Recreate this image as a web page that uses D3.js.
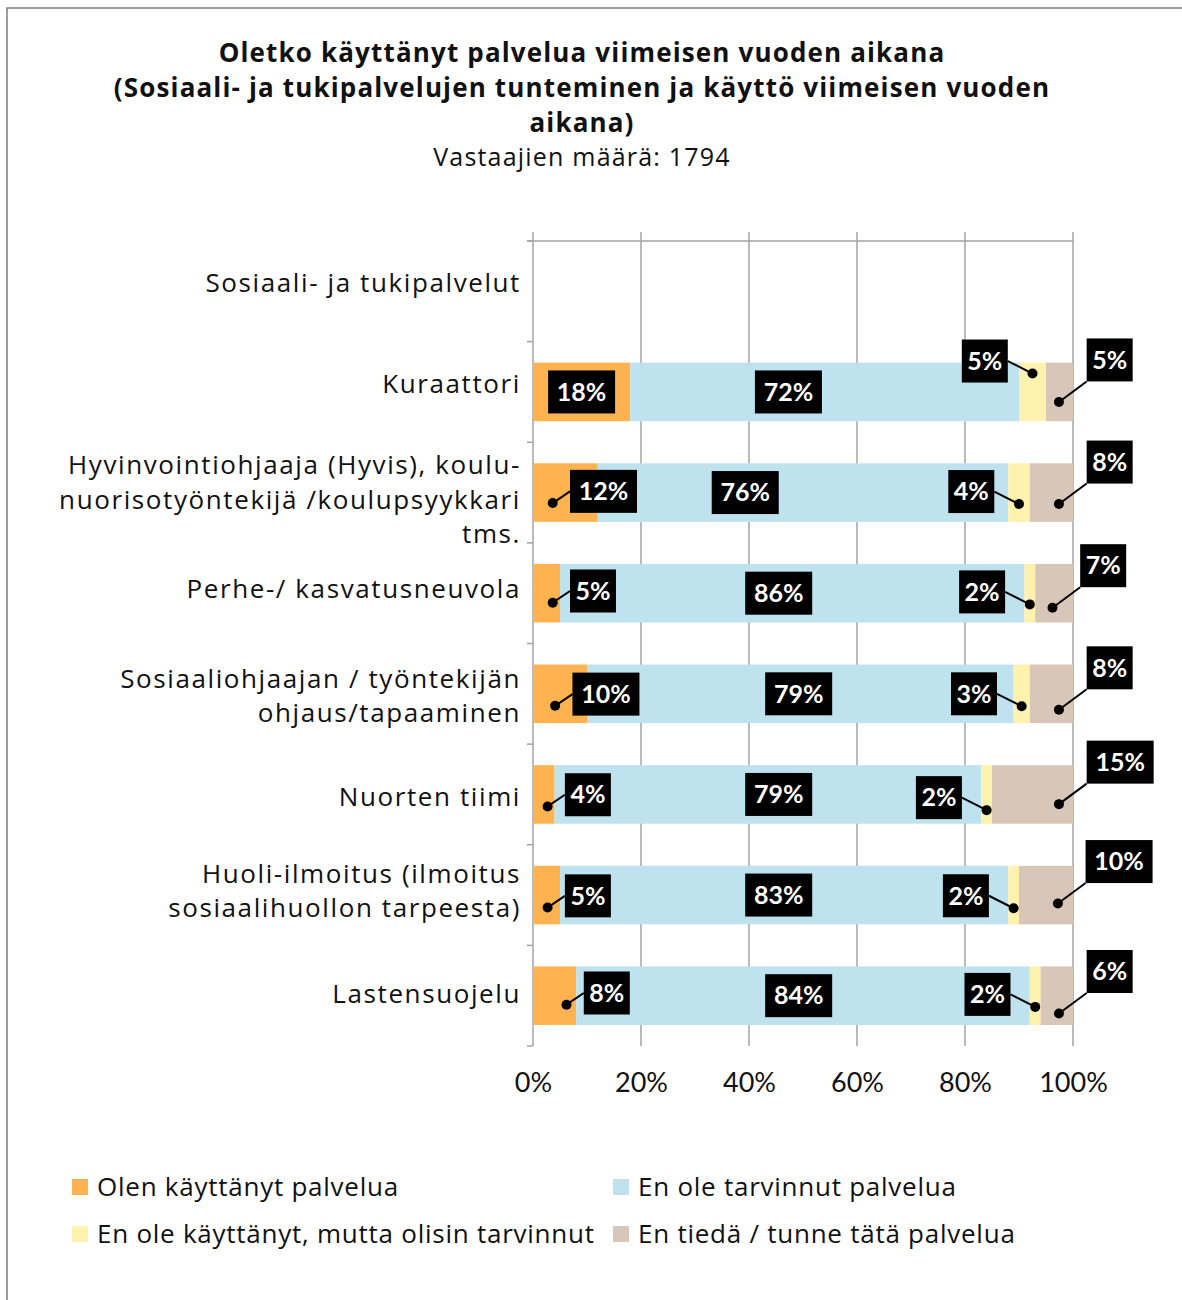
<!DOCTYPE html>
<html>
<head>
<meta charset="utf-8">
<script src="https://cdn.jsdelivr.net/npm/d3@7"></script>
<style>
  body { margin: 0; background: #fff; }
  svg { font-family: "Open Sans", "Noto Sans", sans-serif; }
</style>
</head>
<body>
<div id="chart"></div>
<script>
const titleLines = [
  "Oletko käyttänyt palvelua viimeisen vuoden aikana",
  "(Sosiaali- ja tukipalvelujen tunteminen ja käyttö viimeisen vuoden",
  "aikana)"
];
const subtitle = "Vastaajien määrä: 1794";

const categories = [
  "Sosiaali- ja tukipalvelut",
  "Kuraattori",
  "Hyvinvointiohjaaja (Hyvis), koulu-\nnuorisotyöntekijä /koulupsyykkari\ntms.",
  "Perhe-/ kasvatusneuvola",
  "Sosiaaliohjaajan / työntekijän\nohjaus/tapaaminen",
  "Nuorten tiimi",
  "Huoli-ilmoitus (ilmoitus\nsosiaalihuollon tarpeesta)",
  "Lastensuojelu"
];

const seriesNames = [
  "Olen käyttänyt palvelua",
  "En ole tarvinnut palvelua",
  "En ole käyttänyt, mutta olisin tarvinnut",
  "En tiedä / tunne tätä palvelua"
];
const colors = ["#ffb350", "#bee3ee", "#fff2af", "#d8c7b8"];

// percentages per category (first row is a heading with no data)
const used          = [null, 18, 12, 5, 10, 4, 5, 8];
const notNeeded     = [null, 72, 76, 86, 79, 79, 83, 84];
const wouldHaveUsed = [null, 5, 4, 2, 3, 2, 2, 2];
const dontKnow      = [null, 5, 8, 7, 8, 15, 10, 6];

const xTicks = [0, 20, 40, 60, 80, 100];

// label placement tweaks (layout only, not data)
const catLabelDy   = [-8, -8, 7, -4, 2, 2, -4, -2];
const usedDotPct   = [null, null, 3.65, 3.65, 4.1, 2.7, 2.7, 6.2];   // null = label centred in segment
const usedDotDy    = [0, 0, 10.5, 9.5, 12, 12, 12.5, 9];
const blueLabelPct = [null, 47.3, 39.3, 45.5, 49.2, 45.5, 45.5, 49.2];
const yellowDotDy  = [0, -18.4, 11.5, 11.2, 12.5, 15.7, 13.2, 11.2];
const beigeDotPct  = [null, 97.4, 97.4, 96.2, 97.4, 97.4, 97.2, 97.4];
const beigeDotDy   = [0, 10, 11.5, 14.5, 16, 9.7, 8.5, 17.8];

const width = 1182, height = 1300;
const svg = d3.select("#chart").append("svg")
  .attr("width", width)
  .attr("height", height);

// outer frame (right/bottom edges fall outside the picture)
svg.append("rect")
  .attr("x", 7).attr("y", 8)
  .attr("width", 1300).attr("height", 1400)
  .attr("fill", "none").attr("stroke", "#6b6b6b").attr("stroke-width", 1.3);

// title
svg.append("g").selectAll("text")
  .data(titleLines)
  .join("text")
  .attr("x", 582)
  .attr("y", (d, i) => 53 + i * 35)
  .attr("dy", "0.35em")
  .attr("text-anchor", "middle")
  .style("font-size", "26px")
  .style("font-weight", "bold")
  .style("letter-spacing", "1.15px")
  .attr("fill", "#111")
  .text(d => d);

svg.append("text")
  .attr("x", 582).attr("y", 157).attr("dy", "0.35em")
  .attr("text-anchor", "middle")
  .style("font-size", "25px")
  .style("letter-spacing", "1.2px")
  .attr("fill", "#111")
  .text(subtitle);

const x = d3.scaleLinear().domain([0, 100]).range([533, 1073]);
const y = d3.scaleBand().domain(categories).range([241, 1046])
  .paddingInner(0.418).paddingOuter(0.209);
const step = y.step();
const yc = c => y(c) + y.bandwidth() / 2;

const gridColor = "#a3a3a3";

// vertical gridlines
svg.append("g").selectAll("line")
  .data(xTicks)
  .join("line")
  .attr("x1", d => x(d)).attr("x2", d => x(d))
  .attr("y1", 232).attr("y2", 1046)
  .attr("stroke", gridColor).attr("stroke-width", 1.5);

// top value axis line
svg.append("line")
  .attr("x1", 527).attr("x2", x(100))
  .attr("y1", 241).attr("y2", 241)
  .attr("stroke", gridColor).attr("stroke-width", 1.5);

// category axis with tick marks between categories
svg.append("g").selectAll("line")
  .data(d3.range(categories.length + 1))
  .join("line")
  .attr("x1", 527).attr("x2", 533)
  .attr("y1", i => 241 + i * step).attr("y2", i => 241 + i * step)
  .attr("stroke", gridColor).attr("stroke-width", 1.5);

// value tick labels at the bottom
const xAxis = svg.append("g")
  .attr("transform", "translate(0,1046)")
  .call(d3.axisBottom(x).tickValues(xTicks).tickFormat(d => d + "%").tickSize(0).tickPadding(27));
xAxis.select(".domain").remove();
xAxis.selectAll("text")
  .style("font-size", "27px")
  .style("font-family", "Lato, sans-serif")
  .attr("fill", "#111");

// category labels
const catLabels = svg.append("g").selectAll("text")
  .data(categories)
  .join("text")
  .attr("text-anchor", "end")
  .style("font-size", "26px")
  .style("letter-spacing", "1.6px")
  .attr("fill", "#111");
catLabels.each(function (d, k) {
  const lines = d.split("\n");
  const t = d3.select(this);
  const lh = 34.5;
  const y0 = yc(d) + catLabelDy[k] - (lines.length - 1) * lh / 2;
  lines.forEach((ln, i) => {
    t.append("tspan")
      .attr("x", 521)
      .attr("y", y0 + i * lh)
      .attr("dy", "0.35em")
      .text(ln);
  });
});

// stacked bars
const rows = categories.map((c, i) => ({
  cat: c, idx: i,
  vals: [used[i], notNeeded[i], wouldHaveUsed[i], dontKnow[i]]
})).filter(r => r.vals[0] !== null);

const segs = [];
rows.forEach(r => {
  let acc = 0;
  r.vals.forEach((v, s) => {
    segs.push({ cat: r.cat, idx: r.idx, s, v, x0: acc, x1: acc + v });
    acc += v;
  });
});

svg.append("g").selectAll("rect")
  .data(segs)
  .join("rect")
  .attr("x", d => x(d.x0))
  .attr("y", d => y(d.cat))
  .attr("width", d => x(d.x1) - x(d.x0))
  .attr("height", y.bandwidth())
  .attr("fill", d => colors[d.s]);

// data labels
const boxH = 43;
const boxW = v => String(v).length * 21 + 25;
const labels = segs.map(d => {
  const cy = yc(d.cat);
  const w = boxW(d.v);
  let dot = null, bx, by;
  if (d.s === 0) {
    if (usedDotPct[d.idx] === null) {
      bx = x((d.x0 + d.x1) / 2) - w / 2; by = cy - boxH / 2;
    } else {
      dot = [x(usedDotPct[d.idx]), cy + usedDotDy[d.idx]];
      bx = dot[0] + 17.3; by = dot[1] - 11.7 - boxH / 2;
    }
  } else if (d.s === 1) {
    bx = x(blueLabelPct[d.idx]) - w / 2; by = cy - boxH / 2;
  } else if (d.s === 2) {
    dot = [x((d.x0 + d.x1) / 2), cy + yellowDotDy[d.idx]];
    bx = dot[0] - 24.7 - w; by = dot[1] - 12.5 - boxH / 2;
  } else {
    dot = [x(beigeDotPct[d.idx]), cy + beigeDotDy[d.idx]];
    bx = dot[0] + 27.7; by = dot[1] - 42 - boxH / 2;
  }
  return { ...d, w, bx, by, dot };
});

// leader lines: attach to the edge midpoint, or the corner if the dot lies beyond the box
const leaders = labels.filter(l => l.dot);
leaders.forEach(l => {
  const [dx, dy] = l.dot;
  const ex = dx < l.bx ? l.bx : l.bx + l.w;
  let ey;
  if (dy > l.by + boxH) ey = l.by + boxH;
  else if (dy < l.by) ey = l.by;
  else ey = l.by + boxH / 2;
  l.end = [ex, ey];
});

svg.append("g").selectAll("line")
  .data(leaders)
  .join("line")
  .attr("x1", d => d.dot[0]).attr("y1", d => d.dot[1])
  .attr("x2", d => d.end[0]).attr("y2", d => d.end[1])
  .attr("stroke", "#000").attr("stroke-width", 2);

svg.append("g").selectAll("circle")
  .data(leaders)
  .join("circle")
  .attr("cx", d => d.dot[0]).attr("cy", d => d.dot[1])
  .attr("r", 5)
  .attr("fill", "#000");

const lab = svg.append("g").selectAll("g")
  .data(labels)
  .join("g");
lab.append("rect")
  .attr("x", d => d.bx).attr("y", d => d.by)
  .attr("width", d => d.w).attr("height", boxH)
  .attr("fill", "#000");
lab.append("text")
  .attr("x", d => d.bx + d.w / 2)
  .attr("y", d => d.by + boxH / 2)
  .attr("dy", "0.35em")
  .attr("text-anchor", "middle")
  .style("font-size", "25px")
  .style("font-weight", "bold")
  .style("font-family", "Lato, sans-serif")
  .attr("fill", "#fff")
  .text(d => d.v + "%");

// legend
const legendPos = [[72, 1187], [613, 1187], [72, 1234], [613, 1234]];
const leg = svg.append("g").selectAll("g")
  .data(seriesNames)
  .join("g")
  .attr("transform", (d, i) => `translate(${legendPos[i][0]},${legendPos[i][1]})`);
leg.append("rect")
  .attr("x", 0).attr("y", -8)
  .attr("width", 16).attr("height", 16)
  .attr("fill", (d, i) => colors[i]);
leg.append("text")
  .attr("x", 25).attr("dy", "0.35em")
  .style("font-size", "26px")
  .style("letter-spacing", "0.75px")
  .attr("fill", "#111")
  .text(d => d);
</script>
</body>
</html>
